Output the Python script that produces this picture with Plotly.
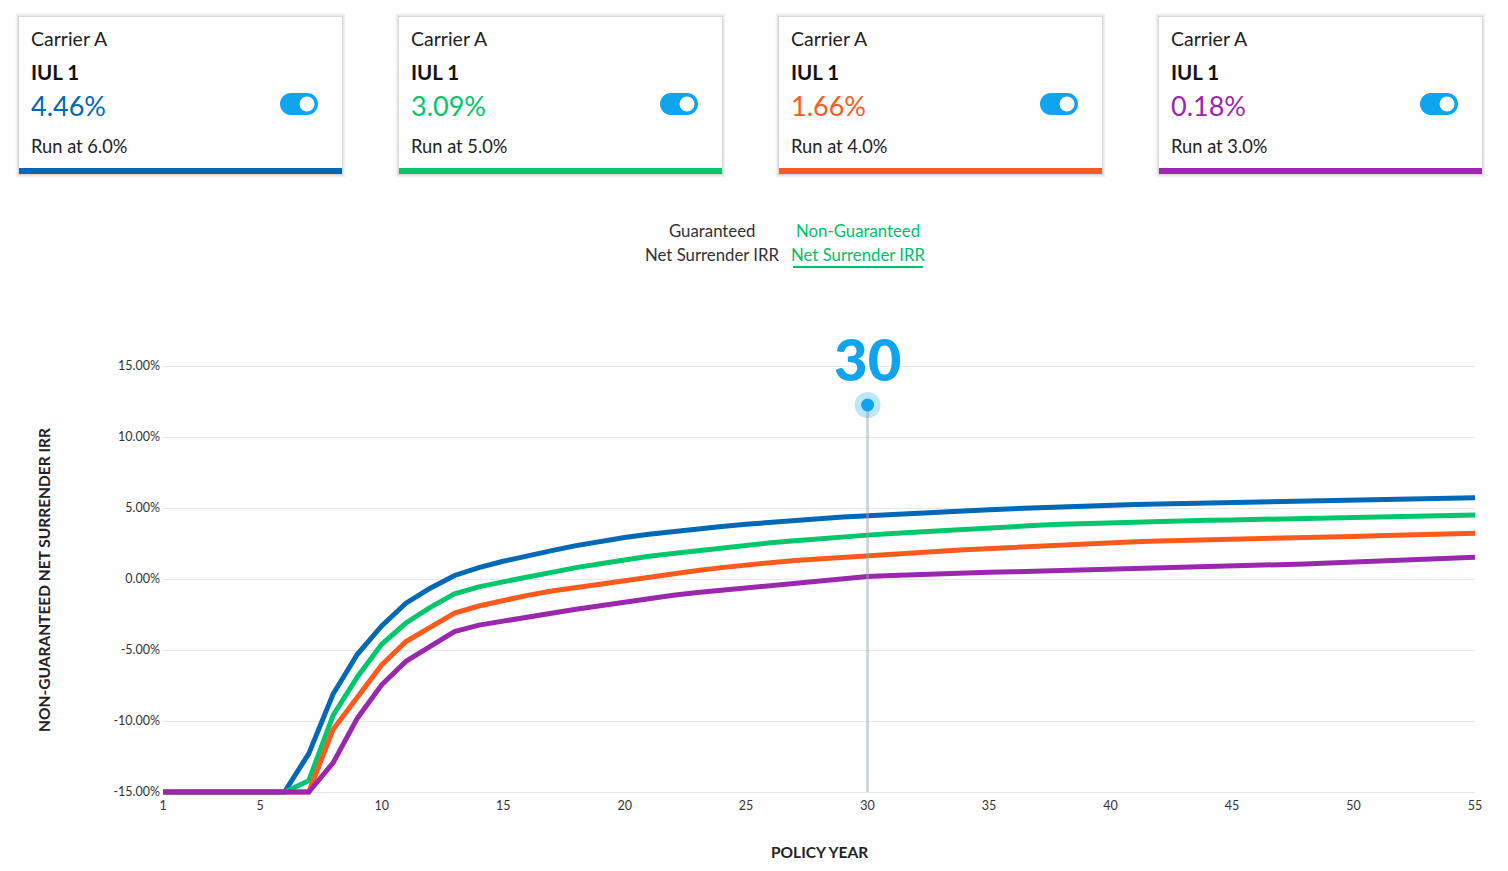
import plotly.graph_objects as go

# ---------------- data ----------------
years = list(range(1, 56))

irr_run_6 = [-15, -15, -15, -15, -15, -15, -12.3, -8.1, -5.3, -3.3,
             -1.7, -0.65, 0.25, 0.8, 1.25, 1.65, 2.0, 2.35, 2.65, 2.92,
             3.15, 3.35, 3.53, 3.7, 3.85, 4.0, 4.13, 4.25, 4.36, 4.46,
             4.55, 4.64, 4.72, 4.8, 4.88, 4.95, 5.02, 5.09, 5.14, 5.19,
             5.24, 5.28, 5.31, 5.35, 5.38, 5.42, 5.45, 5.49, 5.52, 5.56,
             5.59, 5.62, 5.66, 5.69, 5.73]

irr_run_5 = [-15, -15, -15, -15, -15, -15, -14.2, -9.6, -6.9, -4.6,
             -3.1, -2.0, -1.05, -0.55, -0.2, 0.15, 0.5, 0.8, 1.08, 1.35,
             1.6, 1.8, 2.0, 2.2, 2.38, 2.55, 2.7, 2.85, 2.97, 3.09,
             3.2, 3.31, 3.42, 3.52, 3.61, 3.7, 3.78, 3.85, 3.91, 3.96,
             4.01, 4.05, 4.09, 4.13, 4.16, 4.2, 4.23, 4.26, 4.29, 4.32,
             4.36, 4.39, 4.43, 4.47, 4.51]

irr_run_4 = [-15, -15, -15, -15, -15, -15, -15, -10.6, -8.3, -6.05,
             -4.4, -3.35, -2.4, -1.9, -1.5, -1.15, -0.85, -0.6, -0.33, -0.08,
             0.15, 0.38, 0.6, 0.8, 1.0, 1.15, 1.3, 1.42, 1.55, 1.66,
             1.76, 1.86, 1.96, 2.06, 2.15, 2.24, 2.32, 2.41, 2.49, 2.56,
             2.63, 2.68, 2.73, 2.78, 2.82, 2.86, 2.89, 2.92, 2.96, 3.0,
             3.04, 3.08, 3.12, 3.17, 3.22]

irr_run_3 = [-15, -15, -15, -15, -15, -15, -15, -12.95, -9.8, -7.45,
             -5.8, -4.75, -3.7, -3.25, -2.95, -2.65, -2.38, -2.13, -1.88, -1.62,
             -1.38, -1.15, -0.95, -0.78, -0.62, -0.45, -0.28, -0.1, 0.05, 0.18,
             0.25, 0.32, 0.38, 0.43, 0.47, 0.51, 0.55, 0.59, 0.63, 0.67,
             0.71, 0.75, 0.8, 0.85, 0.9, 0.95, 1.0, 1.06, 1.12, 1.18,
             1.25, 1.32, 1.39, 1.46, 1.53]

carriers = ["Carrier A", "Carrier A", "Carrier A", "Carrier A"]
products = ["IUL 1", "IUL 1", "IUL 1", "IUL 1"]
run_labels = ["Run at 6.0%", "Run at 5.0%", "Run at 4.0%", "Run at 3.0%"]
series = [irr_run_6, irr_run_5, irr_run_4, irr_run_3]
colors = ["#0068B4", "#00C76C", "#FF5A1E", "#9B27AF"]

x_ticks = [1, 5, 10, 15, 20, 25, 30, 35, 40, 45, 50, 55]
y_ticks = [-15, -10, -5, 0, 5, 10, 15]
selected_year = 30

# ---------------- layout geometry (pixels) ----------------
W, H = 1508, 871
PL, PR = 163, 1475          # plot left/right
PT, PB = 364, 796           # plot top/bottom
ZERO_Y, PX_PER_PCT = 579, 14.2
y_range = [(ZERO_Y - PB) / PX_PER_PCT, (ZERO_Y - PT) / PX_PER_PCT]

def fx(x):
    return (x - PL) / (PR - PL)

def fy(y):
    return (PB - y) / (PB - PT)

SKY = "#0EA5EE"
FONT = "Lato"

fig = go.Figure()

for vals, col in zip(series, colors):
    fig.add_trace(go.Scatter(
        x=years, y=vals, mode="lines",
        line=dict(color=col, width=5),
        hoverinfo="skip", showlegend=False,
    ))

shapes = []
annotations = []

# ---------------- cards ----------------
card_w, card_top, card_bot = 323, 17, 174
for i in range(4):
    cl = 19 + i * 380
    cr = cl + card_w
    # soft shadow
    for pad, op in [(4, 0.025), (3, 0.03), (2, 0.04), (1, 0.06)]:
        shapes.append(dict(type="rect", xref="paper", yref="paper",
                           x0=fx(cl - pad), x1=fx(cr + pad),
                           y0=fy(card_bot + pad), y1=fy(card_top - pad),
                           fillcolor=f"rgba(0,0,0,{op})", line=dict(width=0),
                           layer="below"))
    shapes.append(dict(type="rect", xref="paper", yref="paper",
                       x0=fx(cl), x1=fx(cr), y0=fy(card_bot), y1=fy(card_top),
                       fillcolor="white", line=dict(width=0), layer="below"))
    shapes.append(dict(type="rect", xref="paper", yref="paper",
                       x0=fx(cl), x1=fx(cr), y0=fy(card_bot), y1=fy(168),
                       fillcolor=colors[i], line=dict(width=0), layer="below"))
    # toggle
    tl, tr, tt, tb = cl + 261, cl + 299, 93, 115
    r = (tb - tt) / 2
    for (a, b) in [(tl, tl + 2 * r), (tr - 2 * r, tr)]:
        shapes.append(dict(type="circle", xref="paper", yref="paper",
                           x0=fx(a), x1=fx(b), y0=fy(tb), y1=fy(tt),
                           fillcolor=SKY, line=dict(width=0)))
    shapes.append(dict(type="rect", xref="paper", yref="paper",
                       x0=fx(tl + r), x1=fx(tr - r), y0=fy(tb), y1=fy(tt),
                       fillcolor=SKY, line=dict(width=0)))
    kx, ky, kr = tr - r, (tt + tb) / 2, 7.5
    shapes.append(dict(type="circle", xref="paper", yref="paper",
                       x0=fx(kx - kr), x1=fx(kx + kr), y0=fy(ky + kr), y1=fy(ky - kr),
                       fillcolor="white", line=dict(width=0)))
    tx = fx(cl + 10)
    annotations += [
        dict(text=carriers[i], x=tx, y=fy(38), font=dict(size=19.5, color="#222", family=FONT)),
        dict(text=f"<b>{products[i]}</b>", x=tx, y=fy(72), font=dict(size=20.5, color="#111", family=FONT)),
        dict(text=f"{series[i][years.index(selected_year)]:.2f}%", x=tx, y=fy(106),
             font=dict(size=27, color=colors[i], family=FONT)),
        dict(text=run_labels[i], x=tx, y=fy(146), font=dict(size=18.3, color="#222", family=FONT)),
    ]

for a in annotations:
    a.update(xref="paper", yref="paper", xanchor="left", yanchor="middle", showarrow=False)

# ---------------- legend toggle ----------------
extra = [
    dict(text="Guaranteed", x=fx(712), y=fy(231), font=dict(size=16.8, color="#333", family=FONT)),
    dict(text="Net Surrender IRR", x=fx(712), y=fy(254), font=dict(size=16.8, color="#333", family=FONT)),
    dict(text="Non-Guaranteed", x=fx(858), y=fy(231), font=dict(size=16.8, color="#00C06B", family=FONT)),
    dict(text="Net Surrender IRR", x=fx(858), y=fy(254), font=dict(size=16.8, color="#00C06B", family=FONT)),
    # selected year marker label
    dict(text=f"{selected_year}", x=selected_year, xref="x", y=fy(358),
         font=dict(size=58, color=SKY, family=FONT, weight=900)),
    # axis titles
    dict(text="<b>POLICY YEAR</b>", x=fx(819), y=fy(852), font=dict(size=15.5, color="#222", family=FONT)),
    dict(text="<b>NON-GUARANTEED NET SURRENDER IRR</b>", x=fx(44), y=fy(580), textangle=-90,
         font=dict(size=15.5, color="#222", family=FONT)),
]
for a in extra:
    a.setdefault("xref", "paper")
    a.update(yref="paper", xanchor="center", yanchor="middle", showarrow=False)
annotations += extra

shapes.append(dict(type="line", xref="paper", yref="paper",
                   x0=fx(793), x1=fx(923), y0=fy(267), y1=fy(267),
                   line=dict(color="#00C06B", width=2)))

# ---------------- selected year marker ----------------
dot_y = fy(405)
shapes.append(dict(type="line", xref="x", yref="paper",
                   x0=selected_year, x1=selected_year, y0=fy(792), y1=dot_y,
                   line=dict(color="rgba(150,160,175,0.45)", width=3), layer="above"))
shapes.append(dict(type="circle", xref="x", yref="paper",
                   xsizemode="pixel", ysizemode="pixel",
                   xanchor=selected_year, yanchor=dot_y,
                   x0=-13, x1=13, y0=-13, y1=13,
                   fillcolor="rgba(14,165,238,0.28)", line=dict(width=0)))
shapes.append(dict(type="circle", xref="x", yref="paper",
                   xsizemode="pixel", ysizemode="pixel",
                   xanchor=selected_year, yanchor=dot_y,
                   x0=-6.5, x1=6.5, y0=-6.5, y1=6.5,
                   fillcolor=SKY, line=dict(width=0)))

fig.update_layout(
    width=W, height=H, autosize=False,
    margin=dict(l=PL, r=W - PR, t=PT, b=H - PB, pad=0),
    paper_bgcolor="white", plot_bgcolor="white",
    font=dict(family=FONT, color="#333"),
    shapes=shapes, annotations=annotations,
    showlegend=False,
    xaxis=dict(range=[1, 55], tickvals=x_ticks, ticktext=[str(v) for v in x_ticks],
               showgrid=False, zeroline=False, showline=False, ticks="",
               tickfont=dict(size=12.5, color="#333", family=FONT), fixedrange=True),
    yaxis=dict(range=y_range, tickvals=y_ticks, ticktext=[f"{v:.2f}%" for v in y_ticks],
               showgrid=True, gridcolor="#E8E8E8", gridwidth=1, zeroline=False,
               showline=False, ticks="", ticklabelstandoff=2,
               tickfont=dict(size=12.5, color="#333", family=FONT), fixedrange=True),
)

fig.write_html("out.html")
